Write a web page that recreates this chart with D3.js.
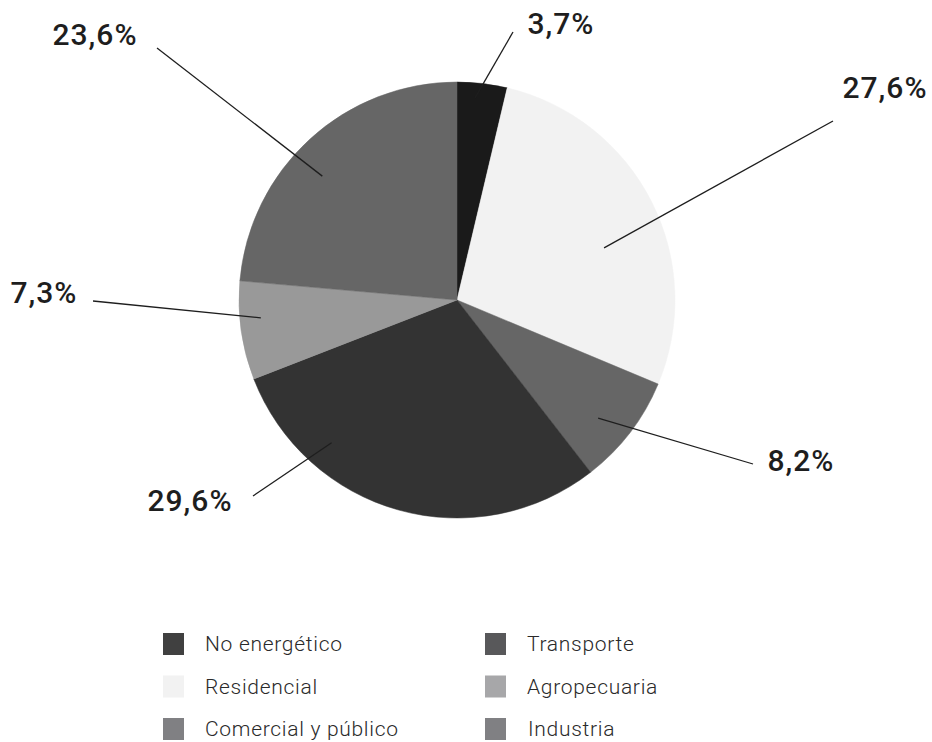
<!DOCTYPE html>
<html>
<head>
<meta charset="utf-8">
<script src="https://cdn.jsdelivr.net/npm/d3@7"></script>
<style>
  body { margin: 0; background: #fff; }
  svg { display: block; }
  .pct { font-family: Roboto, sans-serif; font-weight: 500; font-size: 30px; fill: #1e1e1e; letter-spacing: 1px; }
  .leg { font-family: Roboto, sans-serif; font-weight: 300; font-size: 21px; fill: #2a2a2a; letter-spacing: 0.7px; }
</style>
</head>
<body>
<svg width="932" height="742"></svg>
<script>
// slice order, clockwise from 12 o'clock
let sectors = ["No energético", "Residencial", "Comercial y público", "Transporte", "Agropecuaria", "Industria"];
let shares = [3.7, 27.6, 8.2, 29.6, 7.3, 23.6];
let shareLabels = ["3,7%", "27,6%", "8,2%", "29,6%", "7,3%", "23,6%"];
let sliceColors = ["#1a1a1a", "#f2f2f2", "#666666", "#333333", "#999999", "#666666"];

// legend, read row by row
let legendNames = ["No energético", "Transporte", "Residencial", "Agropecuaria", "Comercial y público", "Industria"];
let legendColors = ["#404040", "#58585a", "#f2f2f2", "#a7a7a9", "#808083", "#808083"];

let svg = d3.select("svg");
let cx = 457, cy = 300, radius = 218;

let pie = d3.pie().sort(null).value(d => d.v);
let arc = d3.arc().innerRadius(0).outerRadius(radius);

let data = sectors.map((s, i) => ({ name: s, v: shares[i], label: shareLabels[i], color: sliceColors[i] }));
let arcs = pie(data);

let g = svg.append("g").attr("transform", `translate(${cx},${cy})`);

g.selectAll("path.slice")
  .data(arcs)
  .enter().append("path")
    .attr("class", "slice")
    .attr("d", arc)
    .attr("fill", d => d.data.color)
    .attr("stroke", d => d.data.color)
    .attr("stroke-width", 0.5);

// leader lines: inner point as (angle deg from top, radius), outer end and text spot in page px
let callouts = [
  { a: 5.1,   r: 203, ex: 513, ey: 32,  tx: 561, ty: 34 },
  { a: 70.5,  r: 156, ex: 833, ey: 121, tx: 885, ty: 98 },
  { a: 129.9, r: 184, ex: 753, ey: 464, tx: 801, ty: 471 },
  { a: 221.3, r: 190, ex: 253, ey: 496, tx: 190, ty: 511 },
  { a: 264.8, r: 197, ex: 93,  ey: 301, tx: 44,  ty: 303 },
  { a: 312.6, r: 183, ex: 157, ey: 48,  tx: 95,  ty: 45 }
];

let labels = svg.append("g");
arcs.forEach((d, i) => {
  let c = callouts[i];
  let t = c.a * Math.PI / 180;
  let x0 = cx + c.r * Math.sin(t);
  let y0 = cy - c.r * Math.cos(t);
  labels.append("line")
    .attr("x1", x0).attr("y1", y0)
    .attr("x2", c.ex).attr("y2", c.ey)
    .attr("stroke", "#1e1e1e")
    .attr("stroke-width", 1.3);
  labels.append("text")
    .attr("class", "pct")
    .attr("x", c.tx).attr("y", c.ty)
    .attr("text-anchor", "middle")
    .text(d.data.label);
});

// legend, two columns x three rows
let col = d3.scalePoint().domain([0, 1]).range([163, 485]);
let row = d3.scalePoint().domain([0, 1, 2]).range([644, 729]);

let leg = svg.append("g")
  .selectAll("g")
  .data(legendNames)
  .enter().append("g")
    .attr("transform", (d, i) => `translate(${col(i % 2)},${row(Math.floor(i / 2))})`);

leg.append("rect")
  .attr("x", 0).attr("y", -11)
  .attr("width", 21).attr("height", 22)
  .attr("fill", (d, i) => legendColors[i]);

leg.append("text")
  .attr("class", "leg")
  .attr("x", (d, i) => d === "Industria" ? 43 : 42)
  .attr("y", 7)
  .text(d => d);
</script>
</body>
</html>
